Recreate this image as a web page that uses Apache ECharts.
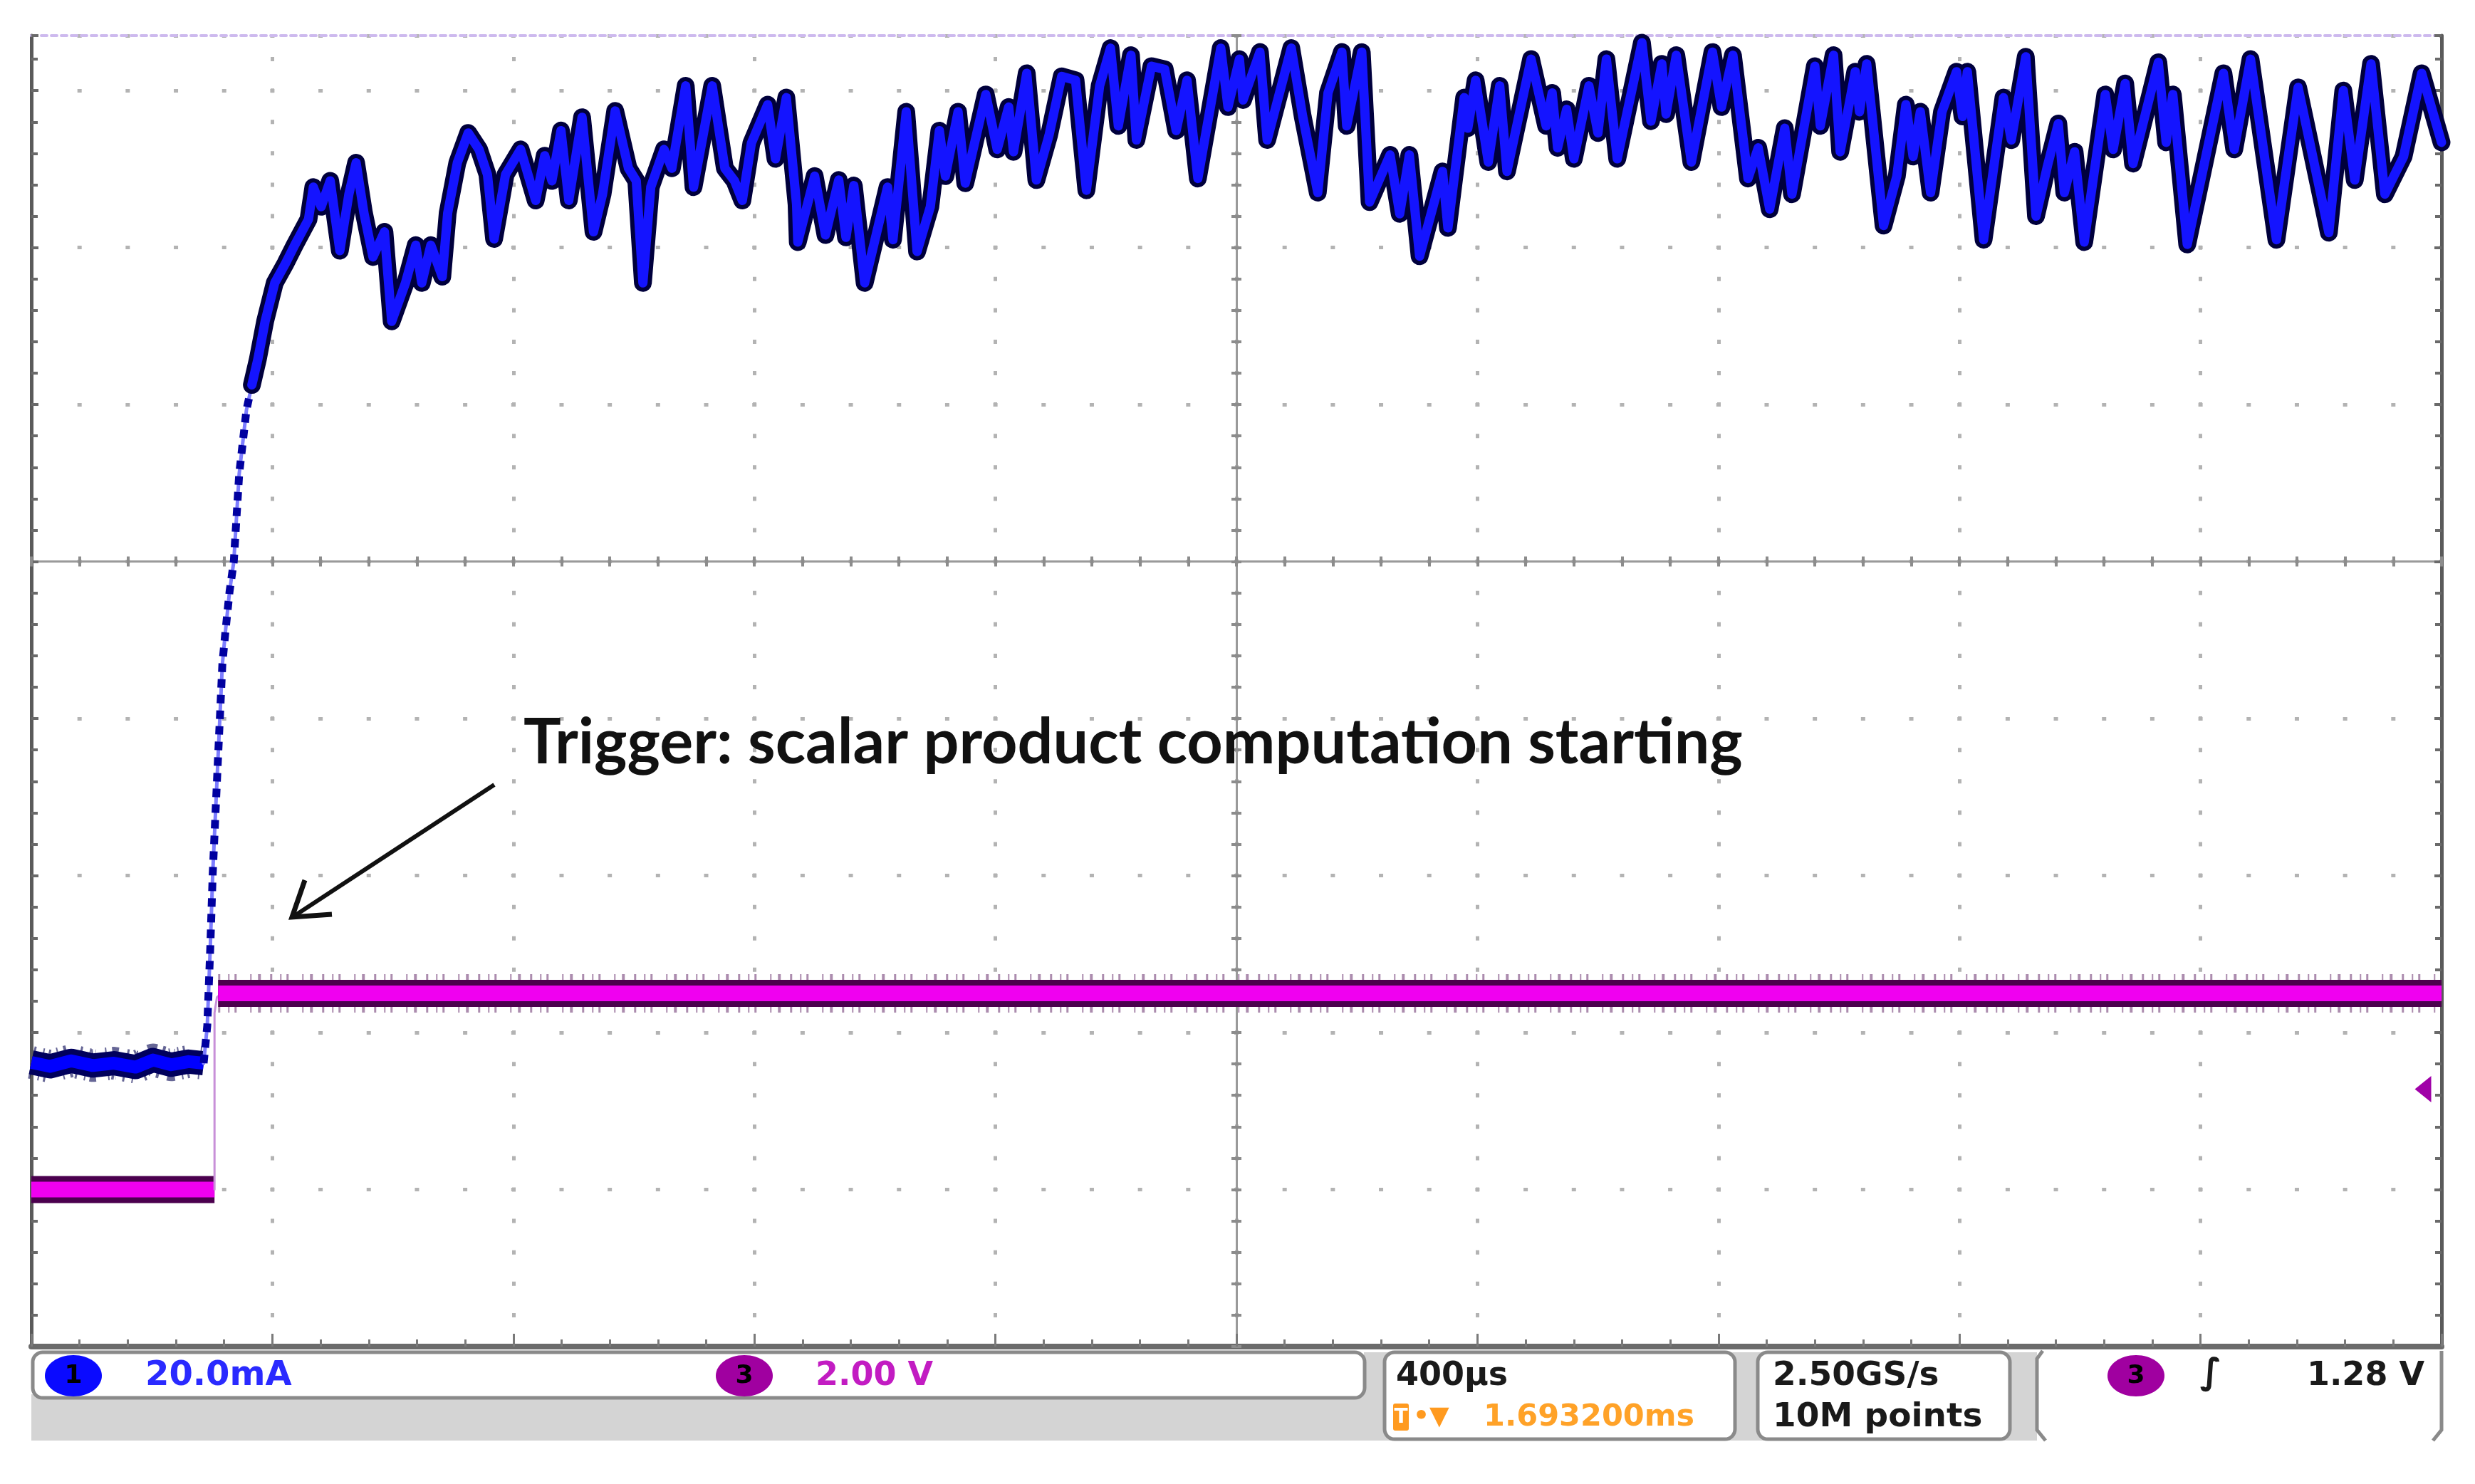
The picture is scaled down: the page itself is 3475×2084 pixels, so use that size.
<!DOCTYPE html>
<html><head><meta charset="utf-8">
<script src="https://cdn.jsdelivr.net/npm/echarts@6/dist/echarts.min.js"></script>
<style>html,body{margin:0;padding:0;background:#fff;}#c{width:3475px;height:2084px;}</style>
</head><body><div id="c"></div>
<script>
// ===== data (time in ms from left screen edge, 400 µs/div) =====
// Channel 1 current (mA), 20.0 mA/div
const ch1Pre = [[0.000,0.2],[0.031,-0.3],[0.066,0.4],[0.102,-0.2],[0.137,0.1],[0.173,-0.4],[0.202,0.5],[0.232,-0.1],[0.261,0.3],[0.286,0.1]];
const ch1Rise = [[0.286,0.1],[0.292,4.9],[0.297,14.9],[0.301,24.2],[0.309,37.6],[0.317,50.9],[0.322,55.0],[0.329,60.2],[0.336,64.0],[0.345,75.2],[0.357,83.3],[0.366,86.5],[0.376,89.8]];
const ch1Post = [[0.366,86.5],[0.376,89.8],[0.388,94.6],[0.404,99.5],[0.422,102.0],[0.437,104.3],[0.460,107.6],[0.468,111.7],[0.481,109.2],[0.496,112.5],[0.512,103.6],[0.527,110.8],[0.539,114.8],[0.552,108.4],[0.567,102.8],[0.586,106.0],[0.598,94.6],[0.621,99.5],[0.638,104.3],[0.648,99.5],[0.663,104.3],[0.682,100.3],[0.691,108.4],[0.707,114.8],[0.725,118.6],[0.743,116.5],[0.757,113.3],[0.768,105.1],[0.787,113.3],[0.812,116.5],[0.837,110.0],[0.852,115.7],[0.864,112.5],[0.879,118.9],[0.892,110.0],[0.914,120.6],[0.933,106.0],[0.948,110.8],[0.969,121.4],[0.991,114.1],[1.004,112.5],[1.015,99.5],[1.028,111.7],[1.050,116.5],[1.063,114.1],[1.086,124.6],[1.099,111.7],[1.130,124.6],[1.151,114.1],[1.167,112.5],[1.180,110.0],[1.195,117.3],[1.222,122.2],[1.235,115.3],[1.253,123.1],[1.270,109.5],[1.272,104.7],[1.300,113.1],[1.318,105.6],[1.340,112.6],[1.352,105.3],[1.365,111.9],[1.383,99.5],[1.421,111.7],[1.430,105.0],[1.452,121.3],[1.470,103.5],[1.492,109.2],[1.507,118.9],[1.517,113.1],[1.538,121.3],[1.550,112.2],[1.584,123.5],[1.603,116.5],[1.622,121.9],[1.630,116.2],[1.652,126.2],[1.668,112.6],[1.689,118.3],[1.710,125.8],[1.733,125.3],[1.751,111.3],[1.773,124.6],[1.791,129.4],[1.804,119.5],[1.825,128.5],[1.834,117.7],[1.859,127.1],[1.881,126.7],[1.900,118.9],[1.918,125.3],[1.936,112.8],[1.974,129.4],[1.986,121.9],[2.005,128.0],[2.011,122.8],[2.039,128.9],[2.051,117.7],[2.091,129.4],[2.110,120.7],[2.135,111.0],[2.152,123.7],[2.175,128.9],[2.183,119.5],[2.208,128.9],[2.221,109.8],[2.255,115.8],[2.271,108.3],[2.287,115.8],[2.304,102.9],[2.342,113.7],[2.351,106.5],[2.378,123.1],[2.384,119.2],[2.397,125.3],[2.418,114.9],[2.437,124.6],[2.449,113.7],[2.489,128.0],[2.514,119.5],[2.524,123.7],[2.533,116.7],[2.548,121.6],[2.560,115.3],[2.585,124.6],[2.600,118.6],[2.614,128.0],[2.632,115.3],[2.673,130.1],[2.688,120.1],[2.706,127.4],[2.713,121.0],[2.730,128.5],[2.755,114.9],[2.790,128.9],[2.805,121.9],[2.824,128.5],[2.849,112.8],[2.866,116.7],[2.885,108.9],[2.910,119.2],[2.922,110.8],[2.960,127.1],[2.969,119.5],[2.991,128.5],[3.002,116.2],[3.027,126.4],[3.034,121.3],[3.046,127.4],[3.074,106.8],[3.096,113.1],[3.111,122.2],[3.123,115.6],[3.135,121.3],[3.152,111.0],[3.171,121.3],[3.195,126.4],[3.205,120.7],[3.213,126.4],[3.240,105.0],[3.273,123.1],[3.286,117.7],[3.310,128.3],[3.327,108.0],[3.346,114.4],[3.364,119.8],[3.374,111.0],[3.391,116.2],[3.407,104.7],[3.442,123.5],[3.455,116.5],[3.475,124.9],[3.488,114.7],[3.530,127.6],[3.543,117.4],[3.554,123.5],[3.578,104.4],[3.638,126.2],[3.656,116.5],[3.683,128.0],[3.726,105.0],[3.762,124.4],[3.813,105.9],[3.837,124.0],[3.856,112.6],[3.883,127.4],[3.906,110.8],[3.937,115.6],[3.967,126.2],[4.000,117.4]];
// Channel 3 voltage (V), 2.00 V/div
const ch3Low = [[0.000,0.0],[0.304,0.0]];
const ch3Edge = [[0.304,0.0],[0.304,2.25],[0.308,2.45],[0.316,2.5]];
const ch3High = [[0.310,2.5],[4.000,2.5]];
const triggerLevel = 1.28;
// readouts
const ch1Scale = '20.0mA', ch3Scale = '2.00 V', timeScale = '400µs', hPos = '1.693200ms';
const sampleRate = '2.50GS/s', recLen = '10M points', trigLevelText = '1.28 V';
const annotation = 'Trigger: scalar product computation starting';

const chart = echarts.init(document.getElementById('c'), null, {renderer:'canvas'});
const gridCol = '#b3b3b3';
function lineSeries(data, yIdx, lineStyle, extra) {
  return Object.assign({
    type:'line', data:data, xAxisIndex:0, yAxisIndex:yIdx, showSymbol:false, symbol:'none',
    silent:true, animation:false, smooth:false,
    lineStyle:Object.assign({join:'round', cap:'round'}, lineStyle)
  }, extra || {});
}
const divTick = {show:true, lineStyle:{color:'#8c8c8c', width:4}};
const option = {
  backgroundColor:'#ffffff',
  animation:false,
  grid:{left:44, top:50, width:3384, height:1841, outerBoundsMode:'none', containLabel:false},
  xAxis:[
    {type:'value', min:0, max:4, interval:0.4, position:'bottom',
     axisLine:{show:true, onZero:false, lineStyle:{color:'#6b6b6b', width:8}},
     axisTick:{show:true, inside:true, length:18, lineStyle:{color:'#7a7a7a', width:3}},
     minorTick:{show:true, splitNumber:5, length:10, lineStyle:{color:'#7a7a7a', width:3}},
     axisLabel:{show:false},
     splitLine:{show:true, lineStyle:{color:gridCol, width:5, type:[6,38.096], dashOffset:14.04}}},
    {type:'value', min:0, max:4, position:'top',
     axisLine:{show:true, onZero:false, lineStyle:{color:'#cdb9ee', width:4, type:[8,6]}},
     axisTick:{show:false}, axisLabel:{show:false}, splitLine:{show:false}},
    {type:'value', min:-5, max:5, interval:1, position:'bottom',
     axisLine:{show:true, onZero:true, onZeroAxisIndex:2, lineStyle:{color:'#9a9a9a', width:3}},
     axisTick:Object.assign({inside:true, length:7}, divTick),
     minorTick:Object.assign({splitNumber:5, length:7}, divTick),
     axisLabel:{show:false}, splitLine:{show:false}},
    {type:'value', min:-5, max:5, interval:1, position:'bottom',
     axisLine:{show:false, onZero:true, onZeroAxisIndex:2},
     axisTick:Object.assign({inside:false, length:7}, divTick),
     minorTick:Object.assign({splitNumber:5, length:7}, divTick),
     axisLabel:{show:false}, splitLine:{show:false}}
  ],
  yAxis:[
    {type:'value', min:-2, max:14.7, interval:2, position:'left',
     axisLine:{show:true, onZero:false, lineStyle:{color:'#5a5a5a', width:5}},
     axisTick:{show:true, inside:true, length:10, lineStyle:{color:'#6a6a6a', width:4}},
     minorTick:{show:true, splitNumber:5, length:9, lineStyle:{color:'#6a6a6a', width:4}},
     axisLabel:{show:false},
     splitLine:{show:true, lineStyle:{color:gridCol, width:5, type:[6,61.68], dashOffset:3}}},
    {type:'value', min:-36, max:131, show:false, position:'left',
     axisLine:{show:false, onZero:false}, splitLine:{show:false}},
    {type:'value', min:-5, max:3.35, interval:1, position:'left',
     axisLine:{show:true, onZero:true, onZeroAxisIndex:2, lineStyle:{color:'#9a9a9a', width:3}},
     axisTick:Object.assign({inside:true, length:7}, divTick),
     minorTick:Object.assign({splitNumber:5, length:7}, divTick),
     axisLabel:{show:false}, splitLine:{show:false}},
    {type:'value', min:-5, max:3.35, interval:1, position:'left',
     axisLine:{show:false, onZero:true, onZeroAxisIndex:2},
     axisTick:Object.assign({inside:false, length:7}, divTick),
     minorTick:Object.assign({splitNumber:5, length:7}, divTick),
     axisLabel:{show:false}, splitLine:{show:false}},
    {type:'value', min:-2, max:14.7, interval:2, position:'right',
     axisLine:{show:true, onZero:false, lineStyle:{color:'#5a5a5a', width:5}},
     axisTick:{show:true, inside:true, length:10, lineStyle:{color:'#6a6a6a', width:4}},
     minorTick:{show:true, splitNumber:5, length:9, lineStyle:{color:'#6a6a6a', width:4}},
     axisLabel:{show:false}, splitLine:{show:false}}
  ],
  series:[
    // channel 1 (current)
    lineSeries(ch1Pre, 1, {color:'#000050', width:46, opacity:0.6, cap:'butt', type:[3,10,2,6,3,17,2,8,4,12]}),
    lineSeries(ch1Pre, 1, {color:'#00005c', width:34, cap:'butt'}),
    lineSeries(ch1Pre, 1, {color:'#0000ff', width:18, cap:'butt'}),
    lineSeries(ch1Rise, 1, {color:'#7d7dff', width:5}),
    lineSeries(ch1Rise, 1, {color:'#0000a0', width:11, type:[12,10], cap:'butt'}),
    lineSeries(ch1Post, 1, {color:'#00003c', width:25}),
    lineSeries(ch1Post, 1, {color:'#1414ff', width:13}),
    // channel 3 (voltage)
    lineSeries(ch3Low, 0, {color:'#4b004e', width:38, cap:'butt'}),
    lineSeries(ch3Low, 0, {color:'#f000f0', width:22, cap:'butt'}),
    lineSeries(ch3Edge, 0, {color:'#c890d8', width:3}),
    lineSeries(ch3High, 0, {color:'#5a1a5e', width:54, opacity:0.5, cap:'butt', type:[3,11,2,7,3,19,2,9,4,13]}),
    lineSeries(ch3High, 0, {color:'#4b004e', width:38, cap:'butt'}),
    lineSeries(ch3High, 0, {color:'#f000f0', width:22, cap:'butt'}, {
      markPoint:{silent:true, animation:false, symbol:'triangle', symbolSize:[37,23], symbolRotate:90, symbolOffset:[-26,0],
        itemStyle:{color:'#a000a8'}, label:{show:false},
        data:[{coord:[4.0, triggerLevel]}]}
    })
  ],
  graphic:[
    // annotation
    {type:'text', x:735, y:1044, z:100, style:{text:annotation, fill:'#111111', font:'bold 88px Lato', align:'left', verticalAlign:'middle'}},
    {type:'line', z:100, shape:{x1:694, y1:1102, x2:412, y2:1287}, style:{stroke:'#111111', lineWidth:6}},
    {type:'polyline', z:100, shape:{points:[[428,1236],[410,1288],[466,1284]]}, style:{stroke:'#111111', lineWidth:7, fill:null, lineJoin:'miter'}},
    // status bar backgrounds
    {type:'rect', z:90, shape:{x:44, y:1958, width:1880, height:65}, style:{fill:'#d4d4d4'}},
    {type:'rect', z:90, shape:{x:1915, y:1899, width:945, height:124}, style:{fill:'#d4d4d4'}},
    {type:'rect', z:91, shape:{x:46, y:1899, width:1870, height:64, r:14}, style:{fill:'#ffffff', stroke:'#8a8a8a', lineWidth:5}},
    {type:'rect', z:91, shape:{x:1944, y:1899, width:492, height:122, r:14}, style:{fill:'#ffffff', stroke:'#8a8a8a', lineWidth:5}},
    {type:'rect', z:91, shape:{x:2468, y:1899, width:354, height:122, r:14}, style:{fill:'#ffffff', stroke:'#8a8a8a', lineWidth:5}},
    {type:'rect', z:90, shape:{x:2860, y:1895, width:568, height:130}, style:{fill:'#ffffff'}},
    {type:'polyline', z:91, shape:{points:[[2872,2023],[2860,2008],[2860,1908],[2868,1897]]}, style:{stroke:'#8a8a8a', lineWidth:5, fill:null}},
    {type:'polyline', z:91, shape:{points:[[3416,2023],[3428,2008],[3428,1897]]}, style:{stroke:'#8a8a8a', lineWidth:5, fill:null}},
    // channel badges
    {type:'ellipse', z:95, shape:{cx:103, cy:1932, rx:40, ry:29}, style:{fill:'#0a0aff'}},
    {type:'text', z:96, x:103, y:1933, style:{text:'1', fill:'#000000', font:'bold 36px "DejaVu Sans"', align:'center', verticalAlign:'middle'}},
    {type:'text', z:96, x:204, y:1933, style:{text:ch1Scale, fill:'#2a2aff', font:'bold 48px "DejaVu Sans"', align:'left', verticalAlign:'middle'}},
    {type:'ellipse', z:95, shape:{cx:1045, cy:1932, rx:40, ry:29}, style:{fill:'#a000a0'}},
    {type:'text', z:96, x:1045, y:1933, style:{text:'3', fill:'#000000', font:'bold 36px "DejaVu Sans"', align:'center', verticalAlign:'middle'}},
    {type:'text', z:96, x:1145, y:1933, style:{text:ch3Scale, fill:'#c21cc2', font:'bold 46px "DejaVu Sans"', align:'left', verticalAlign:'middle'}},
    // horizontal box
    {type:'text', z:96, x:1960, y:1933, style:{text:timeScale, fill:'#1a1a1a', font:'bold 46px "DejaVu Sans"', align:'left', verticalAlign:'middle'}},
    {type:'rect', z:96, shape:{x:1956, y:1971, width:22, height:38, r:3}, style:{fill:'#ff9a1f'}},
    {type:'text', z:97, x:1967, y:1991, style:{text:'T', fill:'#ffffff', font:'bold 28px "DejaVu Sans"', align:'center', verticalAlign:'middle'}},
    {type:'text', z:96, x:1984, y:1991, style:{text:'•▼', fill:'#ff9a1f', font:'bold 36px "DejaVu Sans"', align:'left', verticalAlign:'middle'}},
    {type:'text', z:96, x:2083, y:1991, style:{text:hPos, fill:'#ffa228', font:'bold 43px "DejaVu Sans"', align:'left', verticalAlign:'middle'}},
    // acquisition box
    {type:'text', z:96, x:2489, y:1933, style:{text:sampleRate, fill:'#1a1a1a', font:'bold 47px "DejaVu Sans"', align:'left', verticalAlign:'middle'}},
    {type:'text', z:96, x:2489, y:1991, style:{text:recLen, fill:'#1a1a1a', font:'bold 47px "DejaVu Sans"', align:'left', verticalAlign:'middle'}},
    // trigger box
    {type:'ellipse', z:95, shape:{cx:2999, cy:1932, rx:40, ry:29}, style:{fill:'#a000a0'}},
    {type:'text', z:96, x:2999, y:1933, style:{text:'3', fill:'#000000', font:'bold 36px "DejaVu Sans"', align:'center', verticalAlign:'middle'}},
    {type:'text', z:96, x:3104, y:1930, style:{text:'∫', fill:'#1a1a1a', font:'bold 50px "DejaVu Sans"', align:'center', verticalAlign:'middle'}},
    {type:'text', z:96, x:3404, y:1933, style:{text:trigLevelText, fill:'#1a1a1a', font:'bold 46px "DejaVu Sans"', align:'right', verticalAlign:'middle'}}
  ]
};
chart.setOption(option);
</script>
</body></html>
